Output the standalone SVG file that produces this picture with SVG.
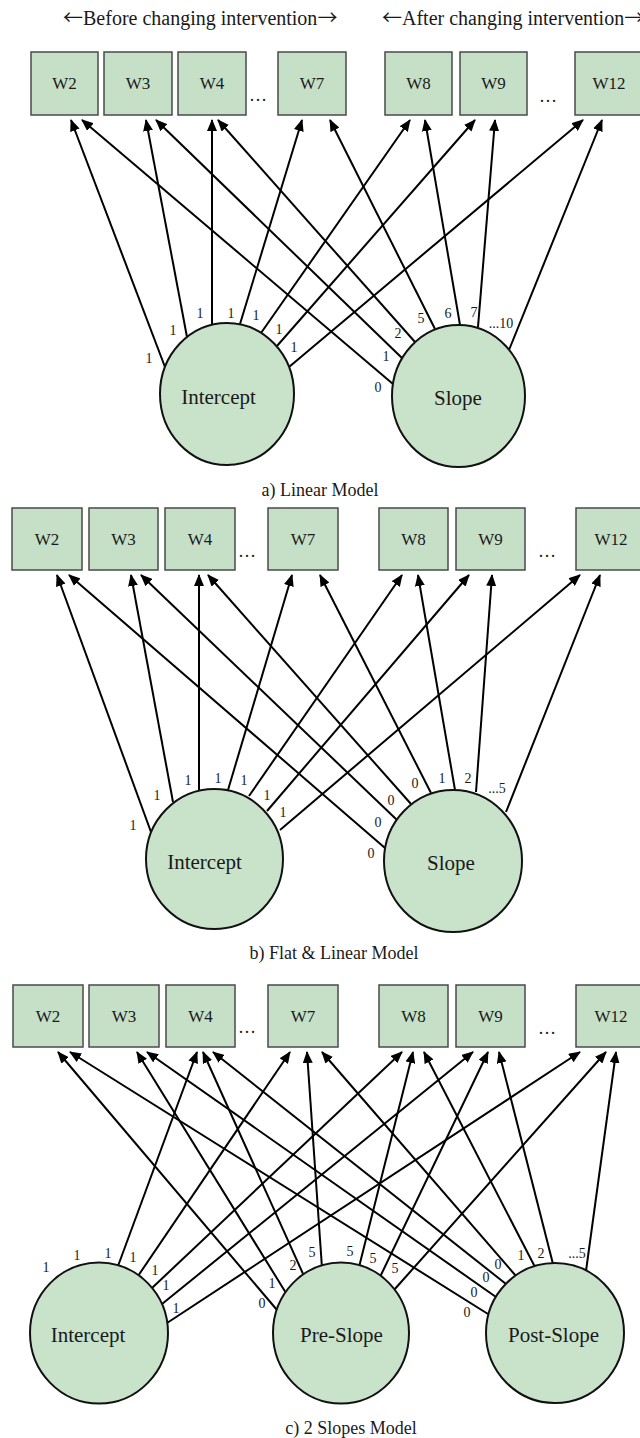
<svg xmlns="http://www.w3.org/2000/svg" width="640" height="1438" viewBox="0 0 640 1438">
<style>
text{font-family:"Liberation Serif","Times New Roman",serif;fill:#1a1a1a}
.box{fill:#c6e0c8;stroke:#4a4a4a;stroke-width:1.5}
.lat{fill:#c8e3ca;stroke:#111;stroke-width:2}
.edge{stroke:#000;stroke-width:2;fill:none;marker-end:url(#ah)}
.bl{font-size:17px;text-anchor:middle}
.nl{font-size:21px;text-anchor:middle}
.el{font-size:14px;text-anchor:middle}
.cap{font-size:18px;text-anchor:middle}
.ttl{font-size:20px}
.arr{font-family:"Noto Sans CJK SC","Liberation Serif",serif}
.dots{font-size:18px;text-anchor:middle}
</style>
<defs>
<marker id="ah" viewBox="0 0 12 10" refX="11" refY="5" markerWidth="12" markerHeight="10" orient="auto" markerUnits="userSpaceOnUse"><path d="M0,0 L12,5 L0,10 z" fill="#000"/></marker>
</defs>
<rect width="640" height="1438" fill="#fff"/>

<!-- titles -->
<text class="ttl" x="63" y="24.5"><tspan class="arr">←</tspan>Before changing intervention<tspan class="arr">→</tspan></text>
<text class="ttl" x="382" y="24.5"><tspan class="arr">←</tspan>After changing intervention<tspan class="arr">→</tspan></text>

<!-- ===== Panel a ===== -->
<g id="a-W2"><rect class="box" x="31" y="52" width="67" height="63"/><text class="bl" x="64.5" y="89">W2</text></g>
<g id="a-W3"><rect class="box" x="104" y="52" width="68" height="63"/><text class="bl" x="138" y="89">W3</text></g>
<g id="a-W4"><rect class="box" x="178" y="52" width="68" height="63"/><text class="bl" x="212" y="89">W4</text></g>
<text class="dots" x="258" y="101">…</text>
<g id="a-W7"><rect class="box" x="278" y="52" width="68" height="63"/><text class="bl" x="312" y="89">W7</text></g>
<g id="a-W8"><rect class="box" x="385" y="52" width="67" height="63"/><text class="bl" x="418.5" y="89">W8</text></g>
<g id="a-W9"><rect class="box" x="460" y="52" width="67" height="63"/><text class="bl" x="493.5" y="89">W9</text></g>
<text class="dots" x="548" y="102">…</text>
<g id="a-W12"><rect class="box" x="575" y="52" width="68" height="63"/><text class="bl" x="609" y="89">W12</text></g>

<g id="a-connectors">
<line class="edge" x1="165" y1="367" x2="71" y2="120"/>
<line class="edge" x1="187" y1="337" x2="146" y2="120"/>
<line class="edge" x1="212" y1="324" x2="212" y2="120"/>
<line class="edge" x1="240" y1="324" x2="302" y2="120"/>
<line class="edge" x1="261" y1="333" x2="410" y2="120"/>
<line class="edge" x1="277" y1="346" x2="475" y2="120"/>
<line class="edge" x1="289" y1="367" x2="583" y2="120"/>
<line class="edge" x1="393" y1="384" x2="82" y2="120"/>
<line class="edge" x1="402" y1="358" x2="156" y2="120"/>
<line class="edge" x1="415" y1="342" x2="218" y2="120"/>
<line class="edge" x1="435" y1="329" x2="330" y2="120"/>
<line class="edge" x1="460" y1="325" x2="425" y2="120"/>
<line class="edge" x1="478" y1="327" x2="495" y2="120"/>
<line class="edge" x1="509" y1="350" x2="602" y2="120"/>
<text class="el" x="149" y="363">1</text>
<text class="el" x="173" y="335">1</text>
<text class="el" x="200" y="318">1</text>
<text class="el" x="231" y="318">1</text>
<text class="el" x="256" y="320">1</text>
<text class="el" x="279" y="334">1</text>
<text class="el" x="294" y="352">1</text>
<text class="el" x="378" y="392">0</text>
<text class="el" x="386" y="361">1</text>
<text class="el" x="398" y="338">2</text>
<text class="el" x="421" y="323">5</text>
<text class="el" x="448" y="318">6</text>
<text class="el" x="474" y="317">7</text>
<text class="el" x="501" y="328">...10</text>
</g>

<g id="a-Intercept"><ellipse class="lat" cx="227" cy="394" rx="67" ry="71"/><text class="nl" x="218.5" y="404">Intercept</text></g>
<g id="a-Slope"><ellipse class="lat" cx="458.5" cy="396" rx="66.5" ry="71"/><text class="nl" x="458" y="405">Slope</text></g>
<text class="cap" x="320" y="496">a) Linear Model</text>

<!-- ===== Panel b ===== -->
<g id="b-W2"><rect class="box" x="12" y="508" width="70" height="62"/><text class="bl" x="47" y="545">W2</text></g>
<g id="b-W3"><rect class="box" x="89" y="508" width="69" height="62"/><text class="bl" x="123.5" y="545">W3</text></g>
<g id="b-W4"><rect class="box" x="165" y="508" width="70" height="62"/><text class="bl" x="200" y="545">W4</text></g>
<text class="dots" x="247" y="557">…</text>
<g id="b-W7"><rect class="box" x="268" y="508" width="70" height="62"/><text class="bl" x="303" y="545">W7</text></g>
<g id="b-W8"><rect class="box" x="379" y="508" width="69" height="62"/><text class="bl" x="413.5" y="545">W8</text></g>
<g id="b-W9"><rect class="box" x="456" y="508" width="69" height="62"/><text class="bl" x="490.5" y="545">W9</text></g>
<text class="dots" x="547" y="557">…</text>
<g id="b-W12"><rect class="box" x="576" y="508" width="70" height="62"/><text class="bl" x="611" y="545">W12</text></g>

<g id="b-connectors">
<line class="edge" x1="151" y1="832" x2="57" y2="575"/>
<line class="edge" x1="173" y1="802" x2="131" y2="575"/>
<line class="edge" x1="199" y1="790" x2="199" y2="575"/>
<line class="edge" x1="228" y1="790" x2="292" y2="575"/>
<line class="edge" x1="249" y1="796" x2="402" y2="575"/>
<line class="edge" x1="267" y1="811" x2="469" y2="575"/>
<line class="edge" x1="280" y1="830" x2="580" y2="575"/>
<line class="edge" x1="385" y1="848" x2="69" y2="575"/>
<line class="edge" x1="397" y1="820" x2="141" y2="575"/>
<line class="edge" x1="411" y1="804" x2="208" y2="575"/>
<line class="edge" x1="431" y1="793" x2="320" y2="575"/>
<line class="edge" x1="455" y1="790" x2="418" y2="575"/>
<line class="edge" x1="476" y1="792" x2="492" y2="575"/>
<line class="edge" x1="506" y1="812" x2="600" y2="575"/>
<text class="el" x="133" y="830">1</text>
<text class="el" x="157" y="800">1</text>
<text class="el" x="188" y="785">1</text>
<text class="el" x="218" y="783">1</text>
<text class="el" x="244" y="785">1</text>
<text class="el" x="267" y="800">1</text>
<text class="el" x="283" y="817">1</text>
<text class="el" x="371" y="858">0</text>
<text class="el" x="378" y="827">0</text>
<text class="el" x="391" y="805">0</text>
<text class="el" x="415" y="788">0</text>
<text class="el" x="442" y="783">1</text>
<text class="el" x="468" y="783">2</text>
<text class="el" x="497" y="793">...5</text>
</g>

<g id="b-Intercept"><ellipse class="lat" cx="214.5" cy="859" rx="68.5" ry="70"/><text class="nl" x="204.5" y="869">Intercept</text></g>
<g id="b-Slope"><ellipse class="lat" cx="453" cy="861" rx="69" ry="71"/><text class="nl" x="451" y="870">Slope</text></g>
<text class="cap" x="334" y="959">b) Flat &amp; Linear Model</text>

<!-- ===== Panel c ===== -->
<g id="c-W2"><rect class="box" x="13" y="985" width="70" height="62"/><text class="bl" x="48" y="1022">W2</text></g>
<g id="c-W3"><rect class="box" x="89" y="985" width="70" height="62"/><text class="bl" x="124" y="1022">W3</text></g>
<g id="c-W4"><rect class="box" x="166" y="985" width="69" height="62"/><text class="bl" x="200.5" y="1022">W4</text></g>
<text class="dots" x="247" y="1033">…</text>
<g id="c-W7"><rect class="box" x="268" y="985" width="70" height="62"/><text class="bl" x="303" y="1022">W7</text></g>
<g id="c-W8"><rect class="box" x="379" y="985" width="69" height="62"/><text class="bl" x="413.5" y="1022">W8</text></g>
<g id="c-W9"><rect class="box" x="456" y="985" width="69" height="62"/><text class="bl" x="490.5" y="1022">W9</text></g>
<text class="dots" x="547" y="1034">…</text>
<g id="c-W12"><rect class="box" x="576" y="985" width="70" height="62"/><text class="bl" x="611" y="1022">W12</text></g>

<g id="c-connectors">
<line class="edge" x1="118" y1="1266" x2="197" y2="1052"/>
<line class="edge" x1="138" y1="1276" x2="290" y2="1052"/>
<line class="edge" x1="152" y1="1288" x2="402" y2="1052"/>
<line class="edge" x1="162" y1="1304" x2="473" y2="1052"/>
<line class="edge" x1="167" y1="1323" x2="580" y2="1052"/>
<line class="edge" x1="277" y1="1310" x2="58" y2="1052"/>
<line class="edge" x1="286" y1="1293" x2="137" y2="1052"/>
<line class="edge" x1="304" y1="1276" x2="203" y2="1052"/>
<line class="edge" x1="322" y1="1268" x2="307" y2="1052"/>
<line class="edge" x1="359" y1="1267" x2="413" y2="1052"/>
<line class="edge" x1="380" y1="1277" x2="488" y2="1052"/>
<line class="edge" x1="394" y1="1290" x2="606" y2="1052"/>
<line class="edge" x1="488" y1="1314" x2="70" y2="1052"/>
<line class="edge" x1="496" y1="1297" x2="147" y2="1052"/>
<line class="edge" x1="506" y1="1284" x2="213" y2="1052"/>
<line class="edge" x1="516" y1="1276" x2="322" y2="1052"/>
<line class="edge" x1="535" y1="1267" x2="424" y2="1052"/>
<line class="edge" x1="553" y1="1264" x2="499" y2="1052"/>
<line class="edge" x1="586" y1="1271" x2="616" y2="1052"/>
<text class="el" x="46" y="1272">1</text>
<text class="el" x="77" y="1260">1</text>
<text class="el" x="108" y="1258">1</text>
<text class="el" x="133" y="1262">1</text>
<text class="el" x="155" y="1275">1</text>
<text class="el" x="166" y="1290">1</text>
<text class="el" x="176" y="1313">1</text>
<text class="el" x="262" y="1308">0</text>
<text class="el" x="272" y="1288">1</text>
<text class="el" x="293" y="1270">2</text>
<text class="el" x="312" y="1257">5</text>
<text class="el" x="350" y="1256">5</text>
<text class="el" x="373" y="1263">5</text>
<text class="el" x="395" y="1273">5</text>
<text class="el" x="467" y="1317">0</text>
<text class="el" x="474" y="1297">0</text>
<text class="el" x="486" y="1282">0</text>
<text class="el" x="498" y="1269">0</text>
<text class="el" x="521" y="1260">1</text>
<text class="el" x="541" y="1258">2</text>
<text class="el" x="577" y="1258">...5</text>
</g>

<g id="c-Intercept"><ellipse class="lat" cx="99" cy="1333" rx="69" ry="70.5"/><text class="nl" x="88" y="1342">Intercept</text></g>
<g id="c-PreSlope"><ellipse class="lat" cx="341" cy="1333" rx="68" ry="70.5"/><text class="nl" x="341.5" y="1342">Pre-Slope</text></g>
<g id="c-PostSlope"><ellipse class="lat" cx="555" cy="1333" rx="69" ry="70"/><text class="nl" x="553.5" y="1342">Post-Slope</text></g>
<text class="cap" x="351" y="1434">c) 2 Slopes Model</text>
</svg>
